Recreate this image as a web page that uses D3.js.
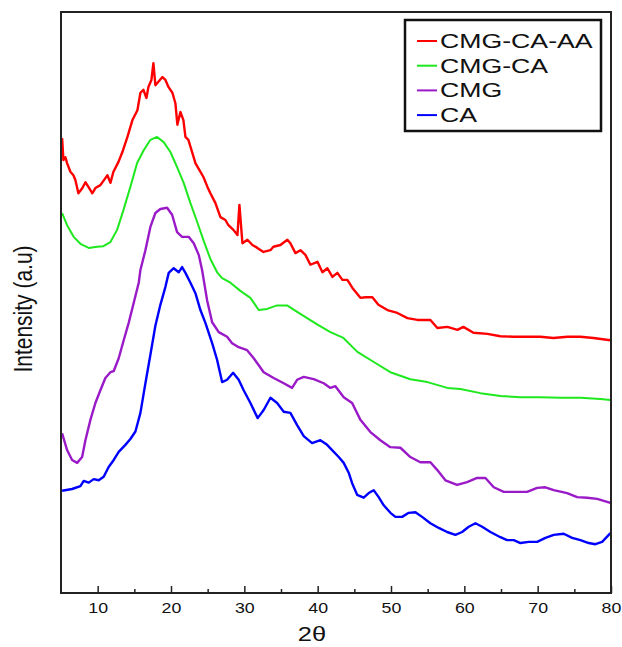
<!DOCTYPE html>
<html>
<head>
<meta charset="utf-8">
<script src="https://cdn.jsdelivr.net/npm/d3@7"></script>
<style>
  body { margin: 0; background: #fff; }
  text { font-family: "Liberation Sans", Arial, sans-serif; fill: #111; }
</style>
</head>
<body>
<div class="xrd-chart"></div>
<script>
// XRD patterns, 2theta (deg) and intensity (a.u.)
const redTheta = [5.15, 5.33, 5.6, 5.83, 6.28, 6.69, 6.96, 7.37, 7.92, 8.33, 8.74, 9.28, 9.69, 10.37, 11.05, 11.33, 11.74, 12.15, 12.84, 13.37, 14.06, 14.74, 15.42, 15.83, 16.24, 16.65, 16.92, 17.33, 17.6, 17.87, 18.28, 18.83, 19.24, 19.65, 20.19, 20.6, 20.87, 21.28, 21.69, 21.97, 22.37, 22.92, 23.33, 23.74, 24.42, 24.97, 25.37, 26.06, 26.74, 27.42, 27.83, 28.51, 29.06, 29.33, 29.74, 30.42, 31.1, 31.78, 32.6, 33.55, 33.97, 34.92, 35.87, 36.28, 36.97, 37.65, 38.33, 39.01, 39.97, 40.65, 41.33, 42.01, 42.69, 43.37, 44.05, 44.74, 45.83, 46.51, 47.46, 48.28, 49.51, 50.87, 52.24, 53.6, 55.37, 56.33, 57.69, 59.06, 59.87, 61.24, 63.15, 64.92, 66.69, 68.6, 70.37, 72.14, 74.06, 75.83, 77.6, 79.92];
const redValues = [78.3, 74.5, 75.0, 74.0, 72.5, 71.9, 71.1, 68.8, 69.7, 70.7, 69.9, 68.8, 69.7, 70.2, 71.4, 71.9, 70.6, 72.5, 74.2, 75.9, 78.5, 81.4, 83.1, 86.1, 86.6, 85.2, 87.1, 88.3, 91.2, 87.4, 88.0, 88.8, 88.3, 87.1, 86.1, 84.3, 80.6, 82.8, 81.4, 78.5, 78.0, 75.7, 74.0, 73.1, 71.6, 69.9, 68.8, 67.1, 64.7, 64.2, 63.3, 62.5, 61.6, 66.8, 60.2, 60.8, 59.9, 59.4, 58.7, 59.0, 59.6, 59.9, 60.8, 60.2, 58.5, 59.0, 58.2, 56.5, 57.0, 55.2, 55.9, 54.4, 55.1, 53.9, 53.9, 52.5, 50.8, 50.9, 50.9, 49.6, 48.7, 48.2, 47.3, 47.0, 47.0, 45.6, 45.8, 45.3, 45.8, 44.8, 44.6, 44.2, 44.1, 44.1, 44.1, 43.9, 44.1, 44.1, 43.9, 43.5];

const greenTheta = [5.15, 5.83, 6.73, 7.65, 8.78, 9.92, 10.78, 11.74, 12.65, 13.51, 14.46, 15.38, 16.28, 17.19, 18.1, 19.0, 19.92, 20.83, 21.73, 22.65, 23.56, 24.46, 25.37, 26.29, 26.97, 28.1, 29.46, 30.83, 31.96, 33.1, 34.47, 35.83, 37.2, 38.56, 40.1, 41.74, 43.51, 45.42, 47.6, 49.91, 52.64, 54.96, 57.69, 59.47, 62.19, 64.92, 67.65, 70.37, 73.1, 75.83, 78.56, 79.92];
const greenValues = [65.4, 63.3, 61.3, 60.1, 59.4, 59.6, 59.7, 60.4, 62.5, 65.9, 69.9, 74.0, 76.2, 78.0, 78.5, 77.6, 75.9, 73.3, 70.6, 67.1, 63.9, 60.6, 57.5, 55.2, 54.2, 53.4, 52.0, 50.8, 48.7, 48.9, 49.5, 49.5, 48.4, 47.3, 46.1, 44.9, 43.9, 41.5, 39.8, 38.0, 36.8, 36.3, 35.3, 35.1, 34.4, 33.9, 33.7, 33.7, 33.6, 33.6, 33.4, 33.2];

const purpleTheta = [5.15, 5.83, 6.51, 7.2, 7.88, 8.33, 9.01, 9.69, 10.37, 11.05, 11.74, 12.19, 12.87, 13.55, 14.23, 14.91, 15.6, 15.83, 16.51, 17.19, 17.87, 18.55, 19.47, 20.15, 20.83, 21.51, 22.41, 23.1, 23.78, 24.24, 24.92, 25.61, 26.51, 27.65, 28.33, 29.23, 30.38, 31.28, 32.64, 34.0, 35.37, 36.51, 37.2, 38.1, 39.46, 40.82, 41.74, 42.42, 43.55, 44.7, 45.83, 47.19, 48.55, 49.91, 51.28, 52.64, 54.0, 55.37, 56.29, 57.42, 59.01, 60.38, 61.74, 62.88, 64.01, 65.37, 66.74, 68.56, 69.93, 71.06, 72.19, 74.02, 75.38, 76.74, 78.11, 79.92];
const purpleValues = [27.5, 24.6, 22.9, 22.4, 23.4, 26.3, 29.8, 32.7, 34.9, 37.0, 38.0, 38.2, 40.4, 43.5, 46.5, 49.9, 53.4, 55.6, 59.0, 63.0, 65.4, 66.1, 66.3, 65.1, 62.1, 61.3, 61.3, 60.2, 58.2, 55.6, 50.4, 46.6, 44.9, 44.1, 43.0, 42.3, 41.8, 40.4, 38.0, 37.0, 36.1, 35.3, 36.7, 37.2, 36.8, 36.1, 35.3, 35.6, 33.7, 32.7, 29.8, 27.7, 26.3, 25.1, 25.0, 23.4, 22.5, 22.5, 21.2, 19.4, 18.6, 19.1, 19.8, 19.8, 18.2, 17.4, 17.4, 17.4, 18.1, 18.2, 17.7, 17.2, 16.5, 16.4, 16.2, 15.5];

const blueTheta = [5.15, 6.51, 7.65, 8.1, 8.78, 9.46, 10.14, 10.82, 11.5, 12.19, 12.87, 13.78, 14.46, 15.15, 15.83, 16.51, 17.19, 17.87, 18.55, 19.24, 19.69, 20.37, 21.05, 21.51, 21.97, 22.65, 23.33, 24.01, 24.69, 25.61, 26.29, 26.97, 27.65, 28.47, 29.23, 29.91, 30.83, 31.82, 32.64, 33.56, 34.47, 35.37, 36.28, 37.2, 38.1, 39.24, 40.37, 41.29, 41.97, 42.87, 43.55, 44.23, 44.7, 45.38, 46.28, 46.96, 47.64, 48.32, 49.01, 49.92, 50.6, 51.52, 52.42, 53.33, 54.24, 55.37, 56.51, 57.65, 58.78, 59.7, 60.6, 61.51, 62.43, 63.56, 64.92, 65.83, 66.74, 67.65, 68.78, 69.93, 71.06, 72.19, 73.55, 74.7, 75.83, 76.96, 77.87, 78.79, 79.92];
const blueValues = [17.6, 17.9, 18.4, 19.3, 19.0, 19.6, 19.4, 20.0, 21.7, 22.9, 24.3, 25.5, 26.5, 27.8, 31.0, 36.1, 41.0, 46.0, 49.6, 52.7, 55.1, 55.9, 55.2, 56.1, 55.1, 53.4, 51.6, 48.7, 46.5, 43.0, 40.1, 36.3, 36.7, 37.9, 36.7, 34.9, 32.7, 30.1, 31.5, 33.6, 32.7, 31.2, 31.0, 28.9, 27.0, 25.8, 26.3, 25.5, 24.6, 23.4, 22.4, 20.7, 18.9, 16.9, 16.4, 17.2, 17.7, 16.5, 15.1, 13.8, 13.1, 13.1, 13.8, 13.9, 13.1, 12.0, 11.2, 10.5, 10.0, 10.5, 11.4, 12.0, 11.4, 10.5, 9.6, 9.1, 9.1, 8.6, 8.8, 8.8, 9.5, 10.0, 10.2, 9.5, 9.1, 8.6, 8.4, 8.8, 10.3];

const seriesNames = ["CMG-CA-AA", "CMG-CA", "CMG", "CA"];
const seriesColors = ["#ff0000", "#1ee81e", "#9a1ac8", "#0000ff"];
const majorTicks = [10, 20, 30, 40, 50, 60, 70, 80];
const minorTicks = [15, 25, 35, 45, 55, 65, 75];

var width = 622;
var height = 647;
var STRETCH = 1.27; // figure text is a bit wide

var x = d3.scaleLinear().domain([5, 80]).range([61, 611]);
var y = d3.scaleLinear().domain([0, 100]).range([593, 12]);

var svg = d3.select(".xrd-chart")
    .append("svg")
    .attr("width", width)
    .attr("height", height);

// build series from the arrays
const thetas = [redTheta, greenTheta, purpleTheta, blueTheta];
const values = [redValues, greenValues, purpleValues, blueValues];
const series = seriesNames.map((name, i) => ({
    name: name,
    color: seriesColors[i],
    points: thetas[i].map((t, j) => [t, values[i][j]])
}));

var line = d3.line()
    .x(d => x(d[0]))
    .y(d => y(d[1]));

svg.selectAll("path.curve")
    .data(series)
    .join("path")
    .attr("class", "curve")
    .attr("d", d => line(d.points))
    .style("fill", "none")
    .style("stroke", d => d.color)
    .style("stroke-width", (d, i) => i === 1 ? 2 : 2.4)
    .style("stroke-linejoin", "round");

// frame
svg.append("rect")
    .attr("x", x(5))
    .attr("y", y(100))
    .attr("width", x(80) - x(5))
    .attr("height", y(0) - y(100))
    .style("fill", "none")
    .style("stroke", "#222")
    .style("stroke-width", 2);

// bottom axis, ticks point inward
var xAxis = d3.axisBottom(x)
    .tickValues(majorTicks)
    .tickSize(-7)
    .tickPadding(10)
    .tickFormat(d3.format("d"));

var gx = svg.append("g")
    .attr("transform", `translate(0,${y(0)})`)
    .call(xAxis);
gx.select(".domain").remove();
gx.selectAll(".tick line").style("stroke", "#222").style("stroke-width", 1.5);
gx.selectAll(".tick text")
    .style("font-size", "14px")
    .style("font-family", "Liberation Sans, Arial, sans-serif")
    .attr("transform", `scale(${STRETCH},1)`);

var gxMinor = svg.append("g")
    .attr("transform", `translate(0,${y(0)})`)
    .call(d3.axisBottom(x).tickValues(minorTicks).tickSize(-4).tickFormat(""));
gxMinor.select(".domain").remove();
gxMinor.selectAll(".tick line").style("stroke", "#222").style("stroke-width", 1.5);

// axis titles
svg.append("text")
    .attr("transform", `translate(312,641) scale(${STRETCH},1)`)
    .attr("text-anchor", "middle")
    .style("font-size", "20px")
    .text("2θ");

svg.append("text")
    .attr("transform", `translate(32,309) scale(${STRETCH},1) rotate(-90)`)
    .attr("text-anchor", "middle")
    .style("font-size", "21px")
    .text("Intensity (a.u)");

// legend
var legend = svg.append("g").attr("class", "legend");
legend.append("rect")
    .attr("x", 405)
    .attr("y", 20)
    .attr("width", 196)
    .attr("height", 111)
    .style("fill", "#fff")
    .style("stroke", "#111")
    .style("stroke-width", 2.5);

var rows = legend.selectAll("g.row")
    .data(series)
    .join("g")
    .attr("class", "row")
    .attr("transform", (d, i) => `translate(417,${48 + i * 24.7})`);

rows.append("line")
    .attr("x1", 0).attr("x2", 20)
    .attr("y1", -7).attr("y2", -7)
    .style("stroke", d => d.color)
    .style("stroke-width", 2);

rows.append("text")
    .attr("transform", `translate(23,0) scale(${STRETCH},1)`)
    .style("font-size", "21px")
    .text(d => d.name);
</script>
</body>
</html>
